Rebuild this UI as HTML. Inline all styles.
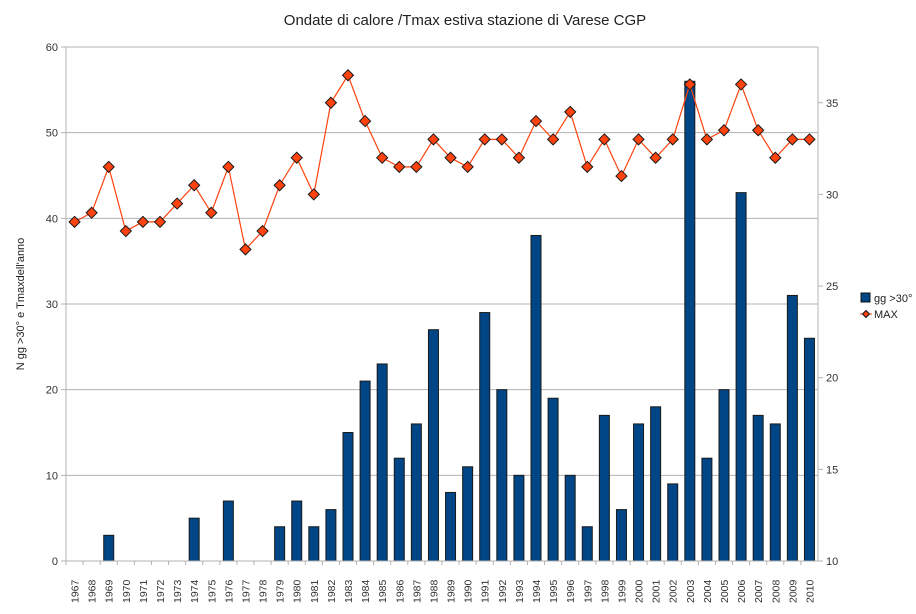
<!DOCTYPE html>
<html><head><meta charset="utf-8"><style>
body{margin:0;background:#fff;font-family:"Liberation Sans",sans-serif}
</style></head><body>
<svg id="c" width="916" height="609" font-family="Liberation Sans, sans-serif">
<text x="465" y="25" font-size="15" text-anchor="middle" fill="#222">Ondate di calore /Tmax estiva  stazione di Varese CGP</text>
<text transform="translate(24,304) rotate(-90)" font-size="11" text-anchor="middle" fill="#222">N gg &gt;30° e Tmaxdell'anno</text>
<g id="grid"></g>
<g id="bars"></g>
<g id="line"></g>
<g id="axes"></g>
<g>
<g><rect x="861" y="293" width="9" height="9" fill="#004586" stroke="#111"/><text x="874" y="302" font-size="11" fill="#222">gg &gt;30°</text></g>
<g><line x1="860" y1="314" x2="872" y2="314" stroke="#ff420e"/><path d="M866 310.5L869.5 314L866 317.5L862.5 314Z" fill="#ff420e" stroke="#111"/><text x="874" y="318" font-size="11" fill="#222">MAX</text></g>
</g>
</svg>
<script>
const years=[1967,1968,1969,1970,1971,1972,1973,1974,1975,1976,1977,1978,1979,1980,1981,1982,1983,1984,1985,1986,1987,1988,1989,1990,1991,1992,1993,1994,1995,1996,1997,1998,1999,2000,2001,2002,2003,2004,2005,2006,2007,2008,2009,2010];
const ggOver30=[0,0,3,0,0,0,0,5,0,7,0,0,4,7,4,6,15,21,23,12,16,27,8,11,29,20,10,38,19,10,4,17,6,16,18,9,56,12,20,43,17,16,31,26];
const tmax=[28.5,29,31.5,28,28.5,28.5,29.5,30.5,29,31.5,27,28,30.5,32,30,35,36.5,34,32,31.5,31.5,33,32,31.5,33,33,32,34,33,34.5,31.5,33,31,33,32,33,36,33,33.5,36,33.5,32,33,33];
const leftTicks=[0,10,20,30,40,50,60];
const rightTicks=[10,15,20,25,30,35];
const X0=66,X1=818,Y0=561,Y1=47;
const bw=(X1-X0)/years.length;
const xc=i=>X0+bw*(i+0.5);
const yL=v=>Y0-(v-0)/60*(Y0-Y1);
const yR=v=>Y0-(v-10)*18.33;
const NS="http://www.w3.org/2000/svg";
function mk(p,t,a){const e=document.createElementNS(NS,t);for(const k in a)e.setAttribute(k,a[k]);p.appendChild(e);return e;}
const grid=document.getElementById('grid'),bars=document.getElementById('bars'),line=document.getElementById('line'),axes=document.getElementById('axes');
leftTicks.forEach(v=>{
 const g=mk(grid,'line',{x1:X0,x2:X1,y1:yL(v),y2:yL(v),stroke:'#b3b3b3'});
 
 
 mk(axes,'line',{x1:X0-5,x2:X0,y1:yL(v),y2:yL(v),stroke:'#b3b3b3'});
 const t=mk(axes,'text',{x:X0-8,y:yL(v)+4,'font-size':11,'text-anchor':'end',fill:'#333'});t.textContent=v;
 
 
});
rightTicks.forEach(v=>{
 mk(axes,'line',{x1:X1,x2:X1+5,y1:yR(v),y2:yR(v),stroke:'#b3b3b3'});
 const t=mk(axes,'text',{x:X1+8,y:yR(v)+4,'font-size':11,fill:'#333'});t.textContent=v;
 
 
});
mk(axes,'line',{x1:X0,x2:X0,y1:Y1,y2:Y0,stroke:'#b3b3b3'});
mk(axes,'line',{x1:X1,x2:X1,y1:Y1,y2:Y0,stroke:'#b3b3b3'});
mk(axes,'line',{x1:X0,x2:X1,y1:Y0,y2:Y0,stroke:'#b3b3b3'});
years.forEach((y,i)=>{
 mk(axes,'line',{x1:X0+bw*i,x2:X0+bw*i,y1:Y0,y2:Y0+4,stroke:'#b3b3b3'});
 const t=mk(axes,'text',{transform:`translate(${xc(i)+4},${Y0+42}) rotate(-90)`,'font-size':10.5,fill:'#333'});t.textContent=y;
 
 
 if(ggOver30[i]>0){
  const r=mk(bars,'rect',{x:xc(i)-5,y:yL(ggOver30[i]),width:10,height:Y0-yL(ggOver30[i]),fill:'#004586',stroke:'#1a1a1a','stroke-width':1});
  
  
 }
});
const pl=mk(line,'polyline',{points:tmax.map((v,i)=>xc(i)+','+yR(v)).join(' '),fill:'none',stroke:'#ff420e','stroke-width':1.2});


tmax.forEach((v,i)=>{
 const x=xc(i),y=yR(v);
 const p=mk(line,'path',{d:`M${x} ${y-5.5}L${x+5.5} ${y}L${x} ${y+5.5}L${x-5.5} ${y}Z`,fill:'#ff420e',stroke:'#1a1a1a','stroke-width':1});
 
 
});
</script>
</body></html>
